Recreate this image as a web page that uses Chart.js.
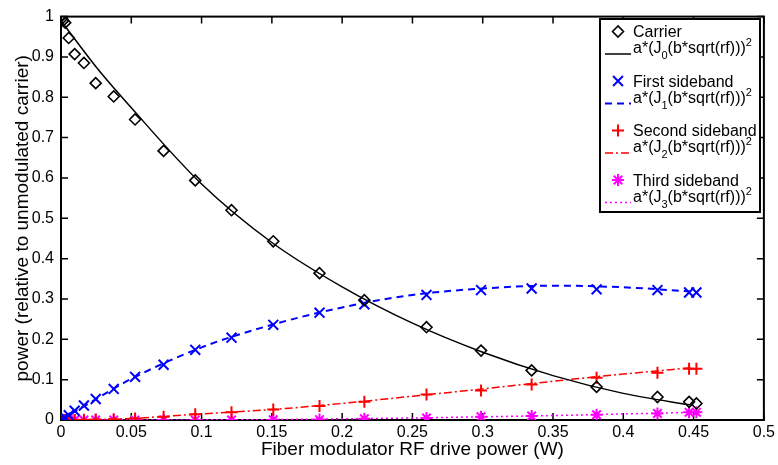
<!DOCTYPE html>
<html>
<head>
<meta charset="utf-8">
<script src="https://cdn.jsdelivr.net/npm/chart.js@4.4.1/dist/chart.umd.min.js"></script>
<style>
  html, body { margin: 0; padding: 0; background: #fff; }
  #wrap { width: 778px; height: 465px; }
</style>
</head>
<body>
<div id="wrap"><canvas id="chart"></canvas></div>
<script>
// Measured points (RF drive power in W, power relative to unmodulated carrier)
const rfPower = [0, 0.0007, 0.0015, 0.003, 0.0055, 0.0097, 0.0163, 0.0247, 0.0375, 0.0527,
  0.073, 0.0955, 0.1213, 0.151, 0.1839, 0.2158, 0.26, 0.2988, 0.3348, 0.381, 0.4243, 0.4468, 0.452];
const carrier = [1.0, 0.995, 0.99, 0.985, 0.947, 0.907, 0.885, 0.835, 0.802, 0.745,
  0.667, 0.594, 0.52, 0.443, 0.364, 0.297, 0.23, 0.172, 0.123, 0.082, 0.057, 0.045, 0.041];
const firstSideband = [0, 0.001, 0.003, 0.006, 0.012, 0.023, 0.036, 0.052, 0.077, 0.107,
  0.137, 0.174, 0.204, 0.236, 0.266, 0.287, 0.31, 0.322, 0.326, 0.324, 0.322, 0.316, 0.316];
const secondSideband = [0, 0, 0, 0, 0, 0.0003, 0.0005, 0.001, 0.002, 0.004,
  0.008, 0.014, 0.019, 0.026, 0.035, 0.045, 0.063, 0.073, 0.088, 0.105, 0.117, 0.127, 0.127];
const thirdSideband = [0, 0, 0, 0, 0, 0, 0, 0, 0, 0,
  0, 0, 0, 0.0005, 0.001, 0.003, 0.005, 0.008, 0.01, 0.013, 0.016, 0.019, 0.019];

// Fitted curves a*(Jn(b*sqrt(rf)))^2
const fitPower = [0, 0.025, 0.05, 0.1, 0.15, 0.2, 0.25, 0.3, 0.35, 0.4, 0.45];
const fitCarrier = [0.99, 0.875, 0.774, 0.585, 0.44, 0.33, 0.24, 0.168, 0.11, 0.066, 0.036];
const fitFirst = [0, 0.052, 0.102, 0.18, 0.236, 0.279, 0.31, 0.326, 0.333, 0.329, 0.318];
const fitSecond = [0, 0.001, 0.004, 0.015, 0.026, 0.041, 0.059, 0.077, 0.096, 0.114, 0.13];
const fitThird = [0, 0, 0, 0.0003, 0.001, 0.003, 0.005, 0.008, 0.011, 0.015, 0.019];

const xTicks = [0, 0.05, 0.1, 0.15, 0.2, 0.25, 0.3, 0.35, 0.4, 0.45, 0.5];
const yTicks = [0, 0.1, 0.2, 0.3, 0.4, 0.5, 0.6, 0.7, 0.8, 0.9, 1];

const legendNames = ["Carrier", "First sideband", "Second sideband", "Third sideband"];
const legendOrders = ["0", "1", "2", "3"];

const FONT = "'Liberation Sans', Arial, Helvetica, sans-serif";
Chart.defaults.font.family = FONT;
Chart.defaults.color = "#000";

const pts = ys => rfPower.map((x, i) => ({ x, y: ys[i] }));
const fit = ys => fitPower.map((x, i) => ({ x, y: ys[i] }));
const fmt = v => String(Number(v.toFixed(3)));

const series = [
  { color: "#000000", style: "rectRot", radius: 5.5, dash: [], width: 1.5 },
  { color: "#0000ff", style: "crossRot", radius: 7, dash: [7, 5], width: 2 },
  { color: "#ff0000", style: "cross", radius: 6, dash: [8, 3, 2, 3], width: 1.5 },
  { color: "#ff00ff", style: "star", radius: 6, dash: [2, 3], width: 1.5 }
];
const measured = [carrier, firstSideband, secondSideband, thirdSideband];
const fitted = [fitCarrier, fitFirst, fitSecond, fitThird];

const datasets = [];
series.forEach((s, i) => {
  datasets.push({
    label: legendNames[i],
    data: pts(measured[i]),
    showLine: false,
    pointStyle: s.style,
    pointRadius: s.radius,
    pointHoverRadius: s.radius,
    pointBorderColor: s.color,
    pointBackgroundColor: "rgba(0,0,0,0)",
    pointBorderWidth: i === 0 ? 1.6 : 2,
    order: 1
  });
  datasets.push({
    label: "fit " + legendOrders[i],
    data: fit(fitted[i]),
    showLine: true,
    borderColor: s.color,
    borderWidth: s.width,
    borderDash: s.dash,
    pointRadius: 0,
    cubicInterpolationMode: "monotone",
    order: 2
  });
});

// axes box with inward ticks, MATLAB style
const framePlugin = {
  id: "frame",
  beforeDatasetsDraw(chart) {
    const { ctx, chartArea: a, scales } = chart;
    ctx.save();
    ctx.strokeStyle = "#000";
    ctx.lineWidth = 1.5;
    ctx.beginPath();
    xTicks.forEach(v => {
      const px = scales.x.getPixelForValue(v);
      ctx.moveTo(px, a.bottom); ctx.lineTo(px, a.bottom - 7);
      ctx.moveTo(px, a.top); ctx.lineTo(px, a.top + 7);
    });
    yTicks.forEach(v => {
      const py = scales.y.getPixelForValue(v);
      ctx.moveTo(a.left, py); ctx.lineTo(a.left + 7, py);
      ctx.moveTo(a.right, py); ctx.lineTo(a.right - 7, py);
    });
    ctx.stroke();
    ctx.lineWidth = 2;
    ctx.strokeRect(a.left, a.top, a.right - a.left, a.bottom - a.top);
    ctx.restore();
  }
};

function drawMarker(ctx, style, x, y, r) {
  ctx.beginPath();
  if (style === "rectRot") {
    ctx.moveTo(x - r, y); ctx.lineTo(x, y - r); ctx.lineTo(x + r, y); ctx.lineTo(x, y + r); ctx.closePath();
  } else {
    const d = r * Math.SQRT1_2;
    if (style === "cross" || style === "star") {
      ctx.moveTo(x - r, y); ctx.lineTo(x + r, y); ctx.moveTo(x, y - r); ctx.lineTo(x, y + r);
    }
    if (style === "crossRot" || style === "star") {
      ctx.moveTo(x - d, y - d); ctx.lineTo(x + d, y + d); ctx.moveTo(x - d, y + d); ctx.lineTo(x + d, y - d);
    }
  }
  ctx.stroke();
}

const legendPlugin = {
  id: "fitLegend",
  afterDraw(chart) {
    const { ctx } = chart;
    const box = { l: 600, t: 19, r: 760, b: 212 };
    ctx.save();
    ctx.fillStyle = "#fff";
    ctx.fillRect(box.l, box.t, box.r - box.l, box.b - box.t);
    ctx.strokeStyle = "#000";
    ctx.lineWidth = 2;
    ctx.strokeRect(box.l, box.t, box.r - box.l, box.b - box.t);
    series.forEach((s, i) => {
      const y0 = 31.5 + 49.5 * i;
      ctx.strokeStyle = s.color;
      ctx.lineWidth = i === 0 ? 1.6 : 2;
      ctx.setLineDash([]);
      drawMarker(ctx, s.style, 618, y0, s.radius);
      ctx.fillStyle = "#000";
      ctx.textBaseline = "alphabetic";
      ctx.font = "16px " + FONT;
      ctx.fillText(legendNames[i], 633, y0 + 5.5);
      // fit line sample
      const ly = y0 + 22.5;
      ctx.strokeStyle = s.color;
      ctx.lineWidth = s.width;
      ctx.setLineDash(s.dash);
      ctx.beginPath(); ctx.moveTo(605, ly); ctx.lineTo(631, ly); ctx.stroke();
      ctx.setLineDash([]);
      // formula with sub/superscripts
      let x = 633;
      const by = y0 + 21.5;
      ctx.font = "16px " + FONT;
      ctx.fillText("a*(J", x, by); x += ctx.measureText("a*(J").width;
      ctx.font = "11px " + FONT;
      ctx.fillText(legendOrders[i], x, by + 6); x += ctx.measureText(legendOrders[i]).width;
      ctx.font = "16px " + FONT;
      ctx.fillText("(b*sqrt(rf)))", x, by); x += ctx.measureText("(b*sqrt(rf)))").width;
      ctx.font = "11px " + FONT;
      ctx.fillText("2", x, by - 7);
    });
    ctx.restore();
  }
};

new Chart(document.getElementById("chart"), {
  type: "scatter",
  data: { datasets },
  options: {
    responsive: true,
    maintainAspectRatio: false,
    animation: false,
    layout: { padding: { top: 14, right: 13, left: 0, bottom: 0 } },
    plugins: { legend: { display: false }, tooltip: { enabled: false } },
    scales: {
      x: {
        type: "linear",
        min: 0,
        max: 0.5,
        afterBuildTicks: s => { s.ticks = xTicks.map(v => ({ value: v })); },
        afterFit: s => { s.height = 45; },
        grid: { display: false, drawTicks: false },
        border: { display: false },
        ticks: { padding: 3, font: { size: 16 }, callback: v => fmt(v), maxRotation: 0, autoSkip: false },
        title: { display: true, text: "Fiber modulator RF drive power (W)", font: { size: 19 }, padding: { top: 0, bottom: 4 } }
      },
      y: {
        type: "linear",
        min: 0,
        max: 1,
        afterBuildTicks: s => { s.ticks = yTicks.map(v => ({ value: v })); },
        afterFit: s => { s.width = 61; },
        grid: { display: false, drawTicks: false },
        border: { display: false },
        ticks: { padding: 7, font: { size: 16 }, callback: v => fmt(v), autoSkip: false },
        title: { display: true, text: "power (relative to unmodulated carrier)", font: { size: 19 }, padding: { top: 11, bottom: 0 } }
      }
    }
  },
  plugins: [framePlugin, legendPlugin]
});
</script>
</body>
</html>
